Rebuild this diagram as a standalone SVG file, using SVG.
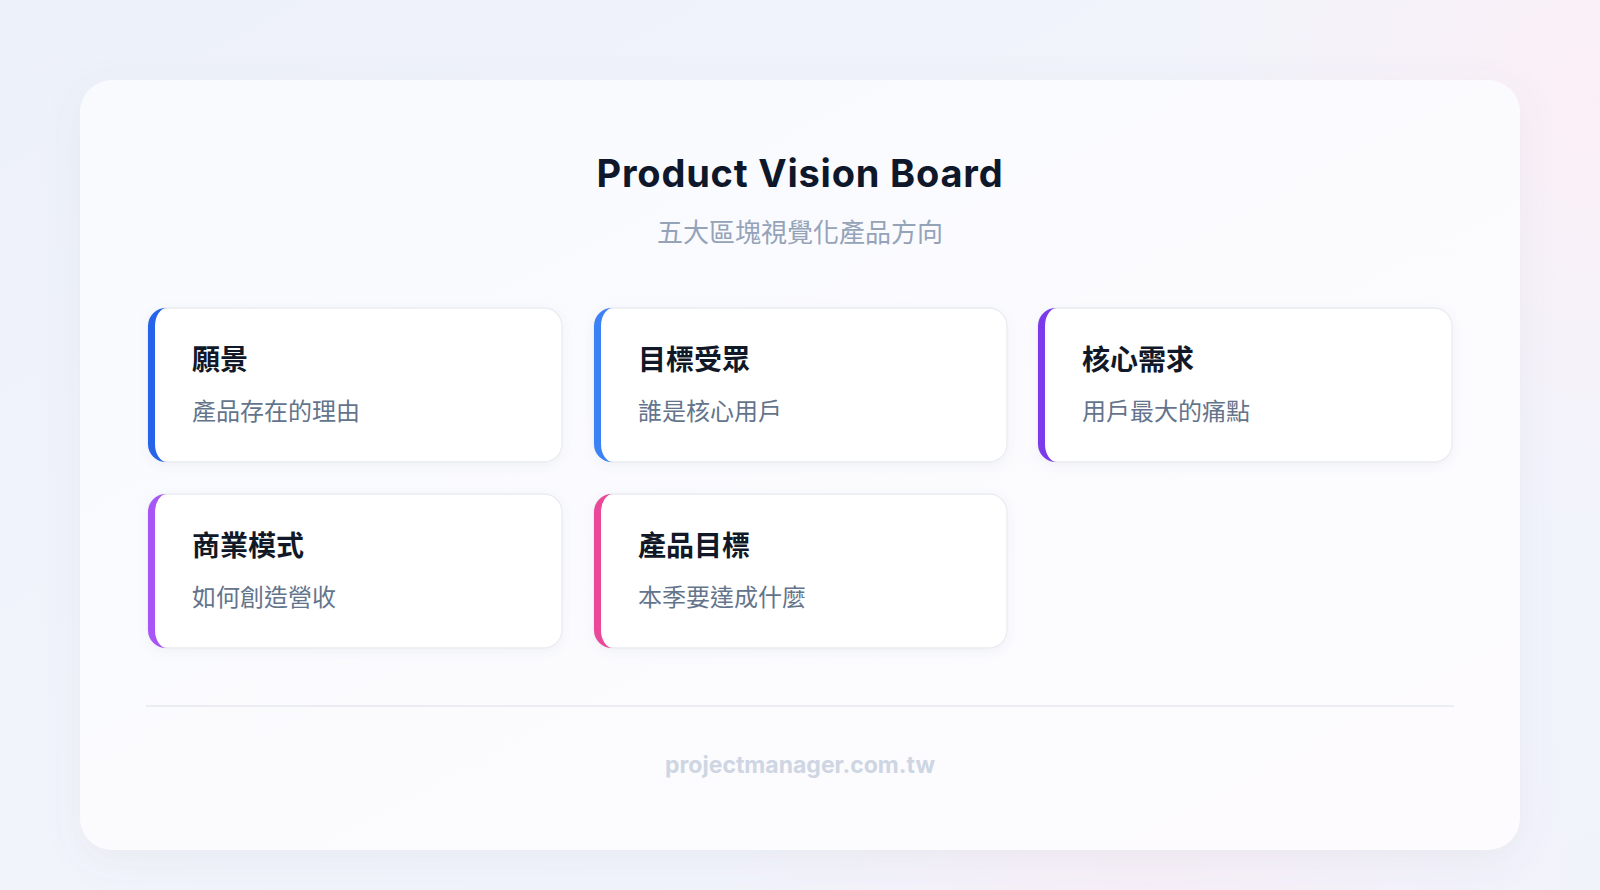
<svg xmlns="http://www.w3.org/2000/svg" width="1600" height="890" viewBox="0 0 1600 890">
<defs>
<linearGradient id="bg" x1="0" y1="0" x2="1" y2="1">
<stop offset="0" stop-color="#edf1fa"/>
<stop offset="0.5" stop-color="#f2f4fb"/>
<stop offset="1" stop-color="#f1f3fb"/>
</linearGradient>
<radialGradient id="pink1" cx="1600" cy="100" r="420" gradientUnits="userSpaceOnUse">
<stop offset="0" stop-color="#fbeff7" stop-opacity="1"/>
<stop offset="1" stop-color="#fbeff7" stop-opacity="0"/>
</radialGradient>
<radialGradient id="pink2" cx="1150" cy="890" r="420" gradientUnits="userSpaceOnUse">
<stop offset="0" stop-color="#f7eff8" stop-opacity="1"/>
<stop offset="1" stop-color="#f7eff8" stop-opacity="0"/>
</radialGradient>
<linearGradient id="panelFill" x1="0" y1="0" x2="1" y2="1">
<stop offset="0" stop-color="#f8fafe"/>
<stop offset="0.5" stop-color="#fbfbfe"/>
<stop offset="1" stop-color="#fdfbfe"/>
</linearGradient>
<filter id="panelShadow" x="-10%" y="-10%" width="120%" height="125%">
<feDropShadow dx="0" dy="10" stdDeviation="18" flood-color="#64748b" flood-opacity="0.08"/>
</filter>
<filter id="cardShadow" x="-10%" y="-20%" width="120%" height="150%">
<feDropShadow dx="0" dy="3" stdDeviation="5" flood-color="#64748b" flood-opacity="0.07"/>
</filter>
</defs>
<style>
.card{fill:#ffffff;stroke:#eaecf1;stroke-width:1.3;filter:url(#cardShadow)}
.ctitle{font-family:"Noto Sans CJK TC","Noto Sans",sans-serif;font-weight:700;font-size:28px;fill:#111827}
.csub{font-family:"Noto Sans CJK TC","Noto Sans",sans-serif;font-weight:400;font-size:24px;fill:#64748b}
</style>
<rect x="0" y="0" width="1600" height="890" fill="url(#bg)"/>
<rect x="0" y="0" width="1600" height="890" fill="url(#pink1)"/>
<rect x="0" y="0" width="1600" height="890" fill="url(#pink2)"/>
<g id="panel">
<rect x="80" y="80" width="1440" height="770" rx="32" fill="url(#panelFill)" filter="url(#panelShadow)"/>
</g>
<g id="header">
<text x="800" y="187" text-anchor="middle" font-family="Inter, 'Liberation Sans', sans-serif" font-weight="700" font-size="38" letter-spacing="0.8" fill="#0f172a">Product Vision Board</text>
<text x="800" y="242" text-anchor="middle" font-family="'Noto Sans CJK TC','Noto Sans',sans-serif" font-size="26" fill="#94a3b8">五大區塊視覺化產品方向</text>
</g>
<g id="card-vision" transform="translate(148,308)">
<rect class="card" x="0" y="0" width="414" height="154" rx="18"/>
<path d="M18 0 A18 18 0 0 0 0 18 V136 A18 18 0 0 0 18 154 H19 A12 18 0 0 1 7 136 V18 A12 18 0 0 1 19 0 Z" fill="#2563eb"/>
<text class="ctitle" x="44" y="62">願景</text>
<text class="csub" x="44" y="112">產品存在的理由</text>
</g>
<g id="card-audience" transform="translate(594,308)">
<rect class="card" x="0" y="0" width="413" height="154" rx="18"/>
<path d="M18 0 A18 18 0 0 0 0 18 V136 A18 18 0 0 0 18 154 H19 A12 18 0 0 1 7 136 V18 A12 18 0 0 1 19 0 Z" fill="#3b82f6"/>
<text class="ctitle" x="44" y="62">目標受眾</text>
<text class="csub" x="44" y="112">誰是核心用戶</text>
</g>
<g id="card-needs" transform="translate(1038,308)">
<rect class="card" x="0" y="0" width="414" height="154" rx="18"/>
<path d="M18 0 A18 18 0 0 0 0 18 V136 A18 18 0 0 0 18 154 H19 A12 18 0 0 1 7 136 V18 A12 18 0 0 1 19 0 Z" fill="#7c3aed"/>
<text class="ctitle" x="44" y="62">核心需求</text>
<text class="csub" x="44" y="112">用戶最大的痛點</text>
</g>
<g id="card-business" transform="translate(148,494)">
<rect class="card" x="0" y="0" width="414" height="154" rx="18"/>
<path d="M18 0 A18 18 0 0 0 0 18 V136 A18 18 0 0 0 18 154 H19 A12 18 0 0 1 7 136 V18 A12 18 0 0 1 19 0 Z" fill="#a855f7"/>
<text class="ctitle" x="44" y="62">商業模式</text>
<text class="csub" x="44" y="112">如何創造營收</text>
</g>
<g id="card-goals" transform="translate(594,494)">
<rect class="card" x="0" y="0" width="413" height="154" rx="18"/>
<path d="M18 0 A18 18 0 0 0 0 18 V136 A18 18 0 0 0 18 154 H19 A12 18 0 0 1 7 136 V18 A12 18 0 0 1 19 0 Z" fill="#ec4899"/>
<text class="ctitle" x="44" y="62">產品目標</text>
<text class="csub" x="44" y="112">本季要達成什麼</text>
</g>
<g id="connectors"></g>
<g id="footer">
<line x1="146" y1="706" x2="1454" y2="706" stroke="#e6e8ee" stroke-width="1.5"/>
<text x="800" y="773" text-anchor="middle" font-family="Inter, 'Liberation Sans', sans-serif" font-weight="700" font-size="23" fill="#cdd6e2">projectmanager.com.tw</text>
</g>
</svg>
